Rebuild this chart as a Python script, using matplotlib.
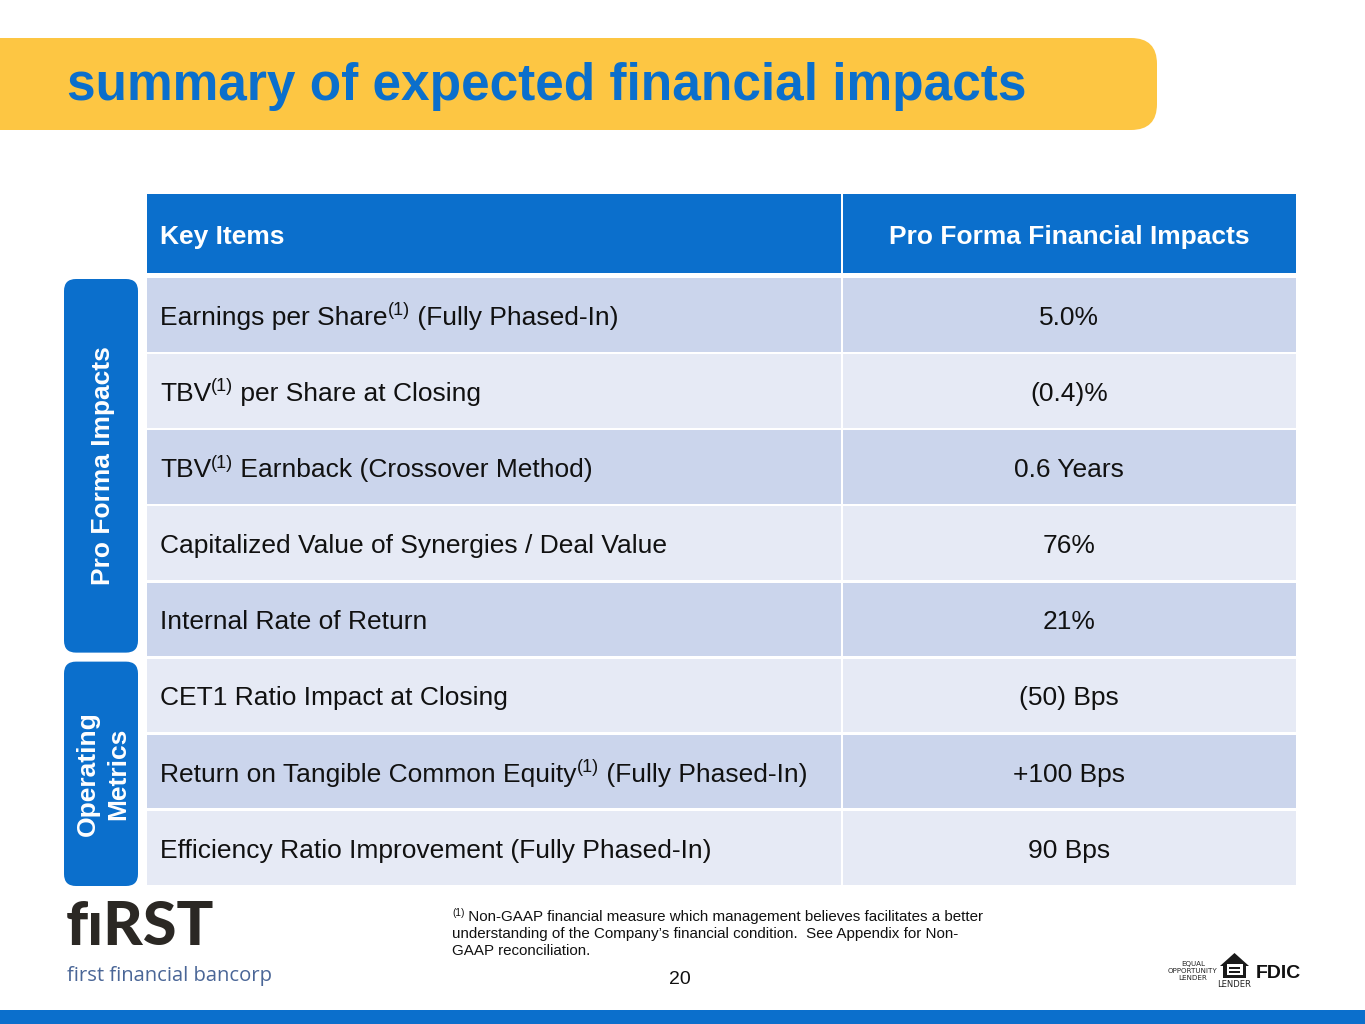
import matplotlib
matplotlib.use("Agg")
import matplotlib.pyplot as plt
from matplotlib.patches import FancyBboxPatch, Rectangle, Polygon

plt.rcParams['font.family'] = ['Liberation Sans', 'DejaVu Sans']

# ---------------- data ----------------
title = "summary of expected financial impacts"
header_labels = ["Key Items", "Pro Forma Financial Impacts"]
item_labels = [
    "Earnings per Share(1) (Fully Phased-In)",
    "TBV(1) per Share at Closing",
    "TBV(1) Earnback (Crossover Method)",
    "Capitalized Value of Synergies / Deal Value",
    "Internal Rate of Return",
    "CET1 Ratio Impact at Closing",
    "Return on Tangible Common Equity(1) (Fully Phased-In)",
    "Efficiency Ratio Improvement (Fully Phased-In)",
]
impact_values = ["5.0%", "(0.4)%", "0.6 Years", "76%", "21%",
                 "(50) Bps", "+100 Bps", "90 Bps"]
group_labels = ["Pro Forma Impacts", "Operating\nMetrics"]
group_sizes = [5, 3]
footnote_lines = [
    "Non-GAAP financial measure which management believes facilitates a better",
    "understanding of the Company\u2019s financial condition.  See Appendix for Non-",
    "GAAP reconciliation.",
]
page_number = "20"
SUP = "(1)"

# ---------------- style ----------------
BLUE = "#0B6FCC"
YELLOW = "#FDC643"
ROW_DARK = "#CBD5EC"
ROW_LIGHT = "#E6EAF5"
TXT = "#111111"

W, H = 1365, 1024
fig = plt.figure(figsize=(W / 100, H / 100), dpi=100)
ax = fig.add_axes([0, 0, 1, 1])
ax.set_xlim(0, W)
ax.set_ylim(H, 0)
ax.axis("off")
renderer = fig.canvas.get_renderer()


def rich_text(x, y, s, size, sup_size, raise_px, color, weight="normal", gap=0):
    parts = s.split(SUP)
    cx = x
    for i, p in enumerate(parts):
        if p:
            t = ax.text(cx, y, p, fontsize=size, color=color, ha="left",
                        va="baseline", fontweight=weight)
            cx += t.get_window_extent(renderer).width
        if i < len(parts) - 1:
            t = ax.text(cx, y - raise_px, SUP, fontsize=sup_size, color=color,
                        ha="left", va="baseline", fontweight=weight)
            cx += t.get_window_extent(renderer).width + gap
    return cx


# banner
ax.add_patch(FancyBboxPatch((-60, 38), 1157 + 60, 92,
                            boxstyle="round,pad=0,rounding_size=26",
                            fc=YELLOW, ec="none"))
ax.text(67, 100, title, fontsize=37, fontweight="bold", color=BLUE,
        ha="left", va="baseline")

# table geometry
x0, xs, x1 = 147, 842, 1296
hdr_top, hdr_bot = 194, 273
rows_top = 278
rows_bot = 887
pitch = (rows_bot - rows_top) / len(item_labels)

# header
ax.add_patch(Rectangle((x0, hdr_top), xs - 1 - x0, hdr_bot - hdr_top, fc=BLUE, ec="none"))
ax.add_patch(Rectangle((xs + 1, hdr_top), x1 - xs - 1, hdr_bot - hdr_top, fc=BLUE, ec="none"))
hc = (hdr_top + hdr_bot) / 2
ax.text(160, hc + 10.5, header_labels[0], fontsize=19, fontweight="bold",
        color="white", ha="left", va="baseline")
ax.text((xs + x1) / 2, hc + 10.5, header_labels[1], fontsize=19, fontweight="bold",
        color="white", ha="center", va="baseline")

# rows
for i, (lab, val) in enumerate(zip(item_labels, impact_values)):
    top = rows_top + i * pitch
    h = pitch - 2.5
    col = ROW_DARK if i % 2 == 0 else ROW_LIGHT
    ax.add_patch(Rectangle((x0, top), xs - 1 - x0, h, fc=col, ec="none"))
    ax.add_patch(Rectangle((xs + 1, top), x1 - xs - 1, h, fc=col, ec="none"))
    cy = top + h / 2
    rich_text(160, cy + 10, lab, 19, 13, 9.5, TXT)
    ax.text((xs + x1) / 2, cy + 10, val, fontsize=19, color=TXT,
            ha="center", va="baseline")

# side group boxes
start = 0
for g, (glab, n) in enumerate(zip(group_labels, group_sizes)):
    gtop = rows_top + start * pitch + (1 if g == 0 else 3)
    gbot = rows_top + (start + n) * pitch - (6 if g == 0 else 1)
    ax.add_patch(FancyBboxPatch((64, gtop), 74, gbot - gtop,
                                boxstyle="round,pad=0,rounding_size=12",
                                fc=BLUE, ec="none"))
    ax.text(103, (gtop + gbot) / 2, glab, fontsize=19, fontweight="bold",
            color="white", rotation=90, ha="center", va="center",
            multialignment="center", linespacing=1.3)
    start += n

# footnote
fy = [921, 938, 955]
rich_text(452, fy[0], SUP + " " + footnote_lines[0], 10.9, 7.2, 4.5, TXT)
for yy, line in zip(fy[1:], footnote_lines[1:]):
    ax.text(452, yy, line, fontsize=10.9, color=TXT, ha="left", va="baseline")
ax.text(680, 984, page_number, fontsize=14, color=TXT, ha="center", va="baseline")

# bottom bar
ax.add_patch(Rectangle((0, 1010), W, 14, fc=BLUE, ec="none"))

# company logo
ax.text(66, 945, "f\u0131RST", fontsize=44, fontweight="black", color="#2B2824",
        family=["Lato", "DejaVu Sans"], ha="left", va="baseline")
ax.text(67, 981, "first financial bancorp", fontsize=14.6, color="#4A6697",
        family=["Open Sans", "DejaVu Sans"], ha="left", va="baseline")

# regulatory logos
ax.text(1193, 971, "EQUAL\nOPPORTUNITY\nLENDER", fontsize=5.1, color="#222222",
        ha="center", va="center", linespacing=1.2,
        family=["Liberation Sans Narrow", "DejaVu Sans"])
house = Polygon([[1220, 966], [1234.5, 953], [1249, 966], [1246, 966], [1246, 978],
                 [1223, 978], [1223, 966]], closed=True, fc="#1A1A1A", ec="none")
ax.add_patch(house)
ax.add_patch(Rectangle((1226.5, 964), 16, 11, fc="white", ec="none"))
ax.add_patch(Rectangle((1229, 966.5), 11, 2.3, fc="#1A1A1A", ec="none"))
ax.add_patch(Rectangle((1229, 970.5), 11, 2.3, fc="#1A1A1A", ec="none"))
ax.text(1234.5, 987, "LENDER", fontsize=6, color="#222222", ha="center",
        va="baseline", family=["Liberation Sans Narrow", "DejaVu Sans"])
ax.text(1256, 978, "FDIC", fontsize=14, fontweight="bold", color="#111111",
        ha="left", va="baseline")

fig.savefig("out.png", dpi=100)
